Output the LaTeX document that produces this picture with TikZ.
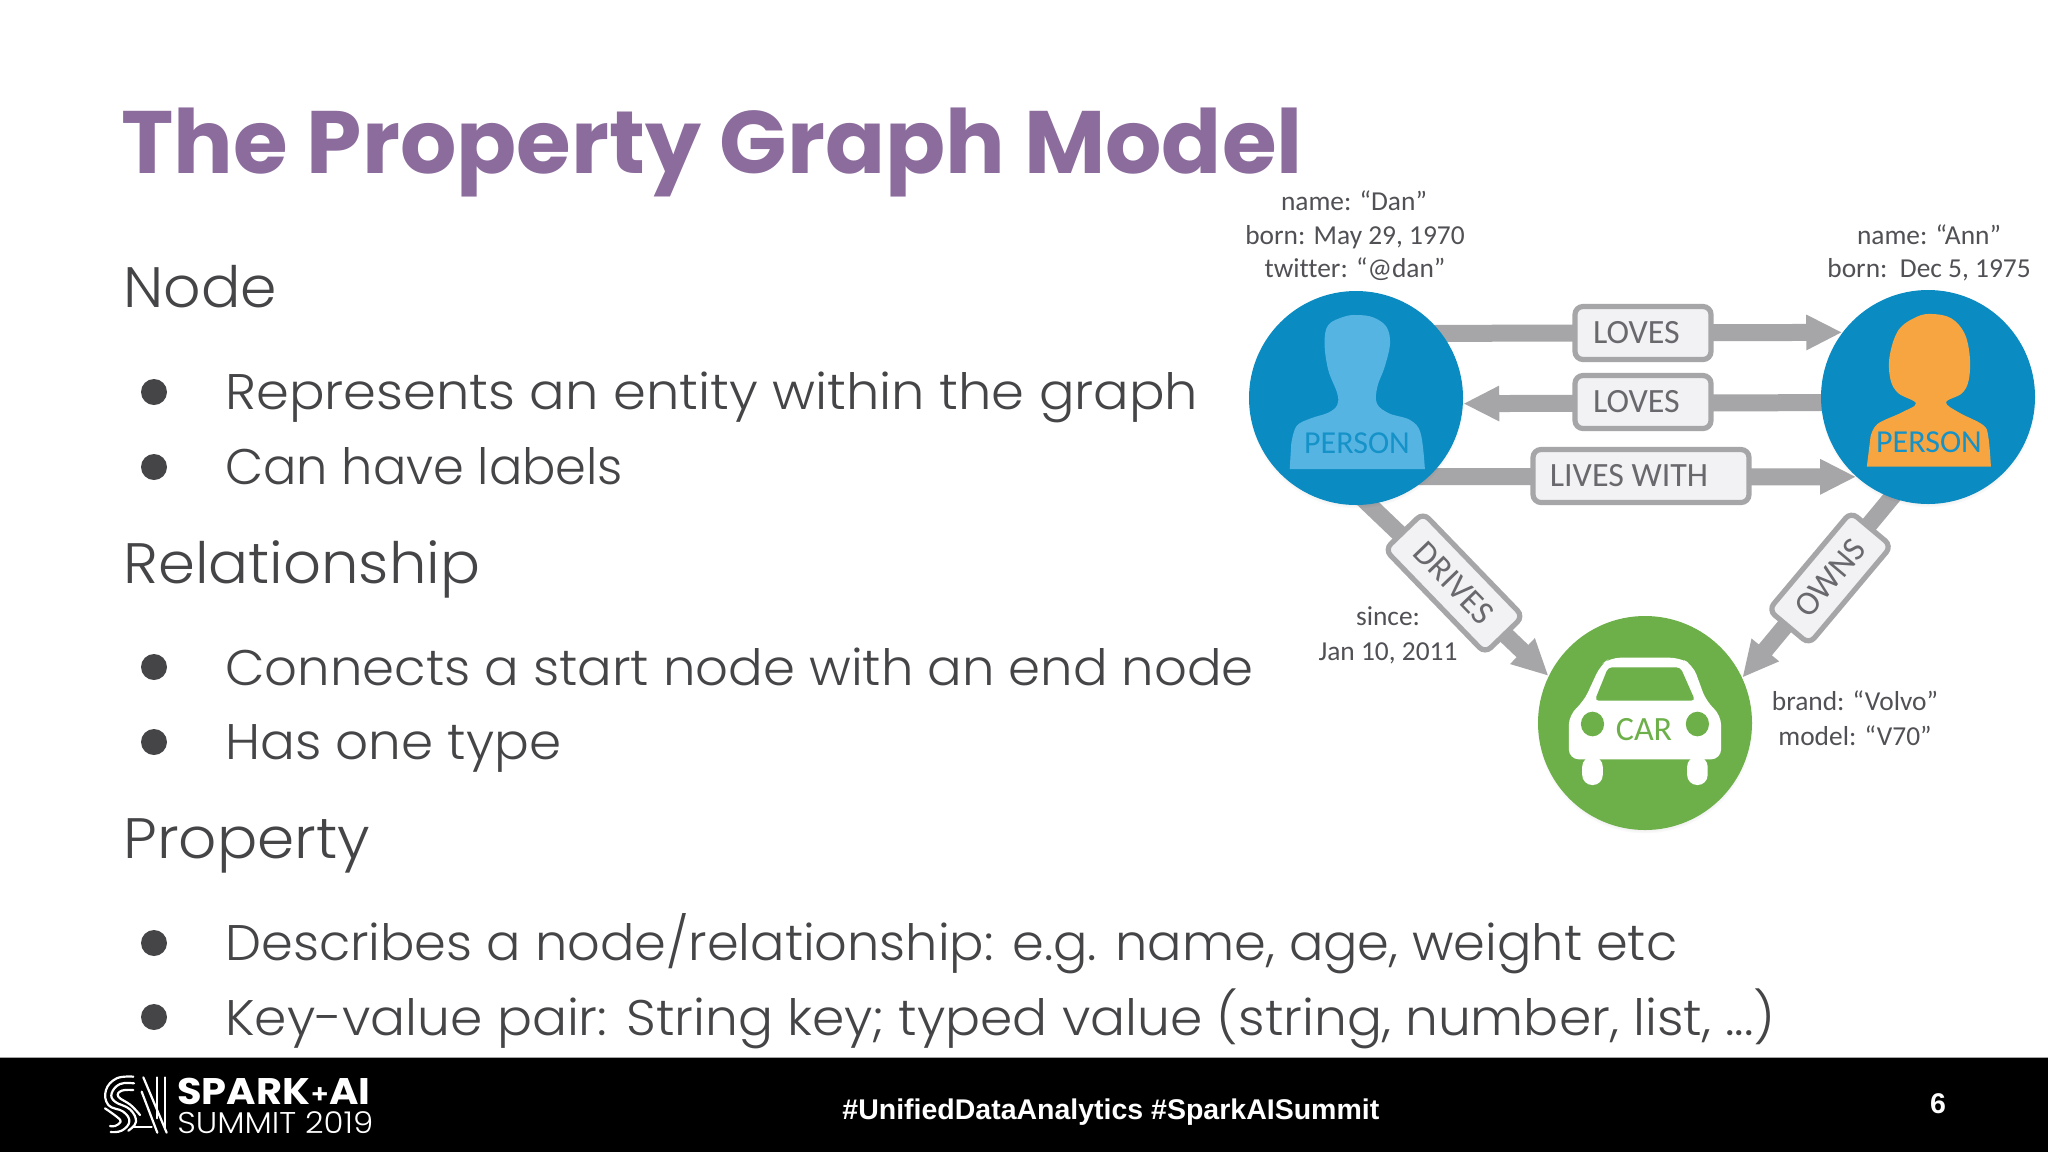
\documentclass[tikz,border=0pt]{standalone}
\usepackage{fontspec}
\usepackage{graphicx}
\usetikzlibrary{arrows.meta,shadows}
\newfontfamily\bodyfont{Poppins Light}
\newfontfamily\titlefont{Poppins}
\newfontfamily\logofont{Poppins}
\newfontfamily\logolight{Poppins Light}
\newfontfamily\dgmfont[Ligatures=NoCommon]{Carlito}
\setmainfont{Liberation Sans}
\definecolor{titlecol}{HTML}{8B6C9C}
\definecolor{bodycol}{HTML}{454548}
\definecolor{dgmtext}{HTML}{505055}
\definecolor{labeltext}{HTML}{68686D}
\definecolor{bluecirc}{HTML}{0A8BC1}
\definecolor{bluelight}{HTML}{56B4E3}
\definecolor{personblue}{HTML}{1592C8}
\definecolor{orangep}{HTML}{F7A541}
\definecolor{greencirc}{HTML}{6DB04A}
\definecolor{flowgray}{HTML}{A6A6A8}
\definecolor{boxfill}{HTML}{F2F2F4}
\pgfdeclarelayer{bg}
\pgfsetlayers{bg,main}
\newcommand{\sx}[2]{\scalebox{#1}[1]{#2}}
\tikzset{
  bodytext/.style={anchor=base west,inner sep=0pt,text=bodycol,font=\bodyfont\fontsize{25}{28}\selectfont},
  headtext/.style={anchor=base west,inner sep=0pt,text=bodycol,font=\bodyfont\fontsize{28.5}{32}\selectfont},
  bulletdot/.style={circle,fill=bodycol,inner sep=0pt,minimum size=13pt},
  disc/.style={circle,inner sep=0pt,minimum size=107pt,circular drop shadow={shadow xshift=0pt,shadow yshift=-1.2pt,shadow scale=1.01,opacity=.22,fill=black}},
  proptext/.style={anchor=base,inner sep=0pt,text=dgmtext,font=\dgmfont\fontsize{13.7}{16}\selectfont},
  labelbox/.style={rectangle,rounded corners=4pt,draw=flowgray,fill=boxfill,line width=2.6pt,inner sep=0pt,minimum height=26.5pt,text=labeltext,font=\dgmfont\fontsize{17}{18}\selectfont},
  flow/.style={draw=flowgray,line width=8.5pt,-{Triangle[length=18pt,width=16.5pt]},shorten <=-8pt},
  logoline/.style={draw=white,line width=1.1pt,line cap=round,line join=round},
}
\begin{document}
\begin{tikzpicture}[x=0.5pt,y=-0.5pt]
\useasboundingbox (0,0) rectangle (2048,1152);
\begin{pgfonlayer}{bg}
\fill[white] (0,0) rectangle (2048,1152);
\end{pgfonlayer}

% title and text
\node[anchor=base west,inner sep=0pt,text=titlecol,font=\titlefont\bfseries\fontsize{44.3}{50}\selectfont] (title) at (121,173) {The Property Graph Model};
\node[headtext] (h1) at (123,307) {\sx{1.026}{Node}};
\node[bodytext] (t1) at (225,409) {\sx{1.055}{Represents an entity within the graph}};
\node[bodytext] (t2) at (225,484) {\sx{0.989}{Can have labels}};
\node[headtext] (h2) at (123,583) {\sx{1.04}{Relationship}};
\node[bodytext] (t3) at (225,685) {\sx{1.026}{Connects a start node with an end node}};
\node[bodytext] (t4) at (225,759) {\sx{1.032}{Has one type}};
\node[headtext] (h3) at (123,858) {\sx{1.048}{Property}};
\node[bodytext] (t5) at (225,960) {\sx{1.02}{Describes a node/relationship: e.g. name, age, weight etc}};
\node[bodytext] (t6) at (225,1035) {\sx{1.038}{Key-value pair: String key; typed value (string, number, list, ...)}};
\node[bulletdot] (b1) at (154,392) {};
\node[bulletdot] (b2) at (154,467) {};
\node[bulletdot] (b3) at (154,667) {};
\node[bulletdot] (b4) at (154,742) {};
\node[bulletdot] (b5) at (154,943) {};
\node[bulletdot] (b6) at (154,1017) {};

% discs
\node[disc,fill=bluecirc] (dan) at (1356,398) {};
\node[disc,fill=bluecirc] (ann) at (1928,397) {};
\node[disc,fill=greencirc] (car) at (1645,723) {};

% silhouettes and car, traced in zoom coordinates
\begin{scope}[shift={(1220,170)},x=0.264pt,y=-0.16667pt]
\fill[bluelight] (132,897) -- plot[smooth,tension=.6] coordinates {(135,820) (145,768) (172,745) (205,728) (222,705) (222,670) (205,600) (198,520) (205,465) (235,440) (260,435) (290,442) (315,470) (322,520) (312,590) (298,650) (297,700) (320,730) (360,750) (380,790) (388,897)} -- cycle;
\fill[orangep] (1225,890) -- plot[smooth,tension=.6] coordinates {(1232,800) (1245,762) (1290,728) (1318,700) (1285,670) (1270,630) (1268,560) (1285,480) (1320,440) (1350,432) (1385,445) (1410,490) (1420,560) (1418,630) (1405,670) (1375,697) (1400,728) (1445,765) (1455,800) (1460,890)} -- cycle;
\end{scope}
\begin{scope}[shift={(1280,480)},x=0.2232pt,y=-0.16667pt]
\fill[white,rounded corners=5pt] (647,838) -- (647,705) -- (680,665) -- (718,555) -- (740,533) -- (895,533) -- (925,555) -- (955,665) -- (988,705) -- (988,838) -- cycle;
\fill[white,rounded corners=5pt] (677,830) -- (677,915) -- (723,915) -- (723,830) -- cycle;
\fill[white,rounded corners=5pt] (912,830) -- (912,915) -- (958,915) -- (958,830) -- cycle;
\fill[greencirc,rounded corners=2pt] (705,662) -- (735,562) -- (897,562) -- (930,662) -- cycle;
\fill[greencirc] (700,732) circle[x radius=26,y radius=37];
\fill[greencirc] (935,732) circle[x radius=26,y radius=37];
\end{scope}

\node[anchor=base,inner sep=0pt,text=personblue,font=\dgmfont\fontsize{16}{18}\selectfont] (p1) at (1357,453) {PERSON};
\node[anchor=base,inner sep=0pt,text=personblue,font=\dgmfont\fontsize{16}{18}\selectfont] (p2) at (1929,452) {PERSON};
\node[anchor=base,inner sep=0pt,text=greencirc,font=\dgmfont\fontsize{17}{18}\selectfont] (c1) at (1644,740) {CAR};

% relationship labels
\node[labelbox,minimum width=68pt] (r1) at (1643,333) {LOVES\kern6.6pt};
\node[labelbox,minimum width=68pt] (r2) at (1643,402) {LOVES\kern6.6pt};
\node[labelbox,minimum width=108pt] (r3) at (1641,476) {LIVES WITH\kern12pt};
\node[labelbox,minimum width=72pt,rotate=-46] (r4) at (1454,583) {DRIVES};
\node[labelbox,minimum width=64pt,rotate=50] (r5) at (1830,578) {OWNS};

% connectors
\begin{pgfonlayer}{bg}
\draw[flow] (dan.37.6) -- (ann.143);
\draw[flow] (ann.183) -- (dan.357.5);
\draw[flow] (dan.-47) -- (ann.228);
\draw[flow] (dan.-83) -- (car.154.6);
\draw[flow] (ann.250.7) -- (car.25.4);
\end{pgfonlayer}

% properties
\node[proptext] (d1) at (1354,210) {name: “Dan”};
\node[proptext] (d2) at (1355,244) {born: May 29, 1970};
\node[proptext] (d3) at (1355,277) {twitter: “@dan”};
\node[proptext] (a1) at (1929,244) {name: “Ann”};
\node[proptext] (a2) at (1929,277) {born:\ \ Dec 5, 1975};
\node[proptext] (s1) at (1388,625) {since:};
\node[proptext] (s2) at (1388,660) {Jan 10, 2011};
\node[proptext] (m1) at (1855,710) {brand: “Volvo”};
\node[proptext] (m2) at (1855,745) {model: “V70”};

% footer
\fill[black] (0,1057) rectangle (2048,1152);
\draw[gray!70,line width=.5pt] (0,1057) -- (2048,1057);
\begin{scope}[shift={(0,1040)},x=0.16667pt,y=-0.16667pt]
\draw[logoline] plot[smooth,tension=.7] coordinates {(400,110) (350,115) (318,150) (325,195) (370,215) (388,245) (365,272) (332,276)};
\draw[logoline] plot[smooth,tension=.7] coordinates {(402,130) (360,132) (335,160) (345,185) (390,208) (408,245) (385,272)};
\draw[logoline] plot[smooth,tension=.7] coordinates {(400,150) (365,152) (355,170) (392,195) (420,225)};
\draw[logoline] plot[smooth,tension=.7] coordinates {(315,205) (350,230) (362,245) (345,258) (330,258)};
\draw[logoline] (430,112) -- (500,278);
\draw[logoline] (425,155) -- (472,278);
\draw[logoline] (472,112) -- (472,235);
\draw[logoline] (495,112) -- (495,265);
\draw[logoline] (400,262) -- (455,262);
\end{scope}
\node[anchor=base west,inner sep=0pt,text=white,font=\logofont\bfseries\fontsize{18.5}{20}\selectfont] (sp) at (177,1104) {\sx{1.08}{SPARK\raisebox{.5pt}{\logolight\fontsize{13}{14}\selectfont+}AI}};
\node[anchor=base west,inner sep=0pt,text=white,font=\logolight\fontsize{15}{16}\selectfont] (su) at (177,1133) {\sx{1.08}{SUMMIT 2019}};
\node[anchor=base west,inner sep=0pt,text=white,font=\bfseries\fontsize{14.25}{18}\selectfont] (tag) at (842,1119) {\#UnifiedDataAnalytics \#SparkAISummit};
\node[anchor=base,inner sep=0pt,text=white,font=\bfseries\fontsize{14.25}{18}\selectfont] (pg) at (1938,1113) {6};
\end{tikzpicture}
\end{document}
